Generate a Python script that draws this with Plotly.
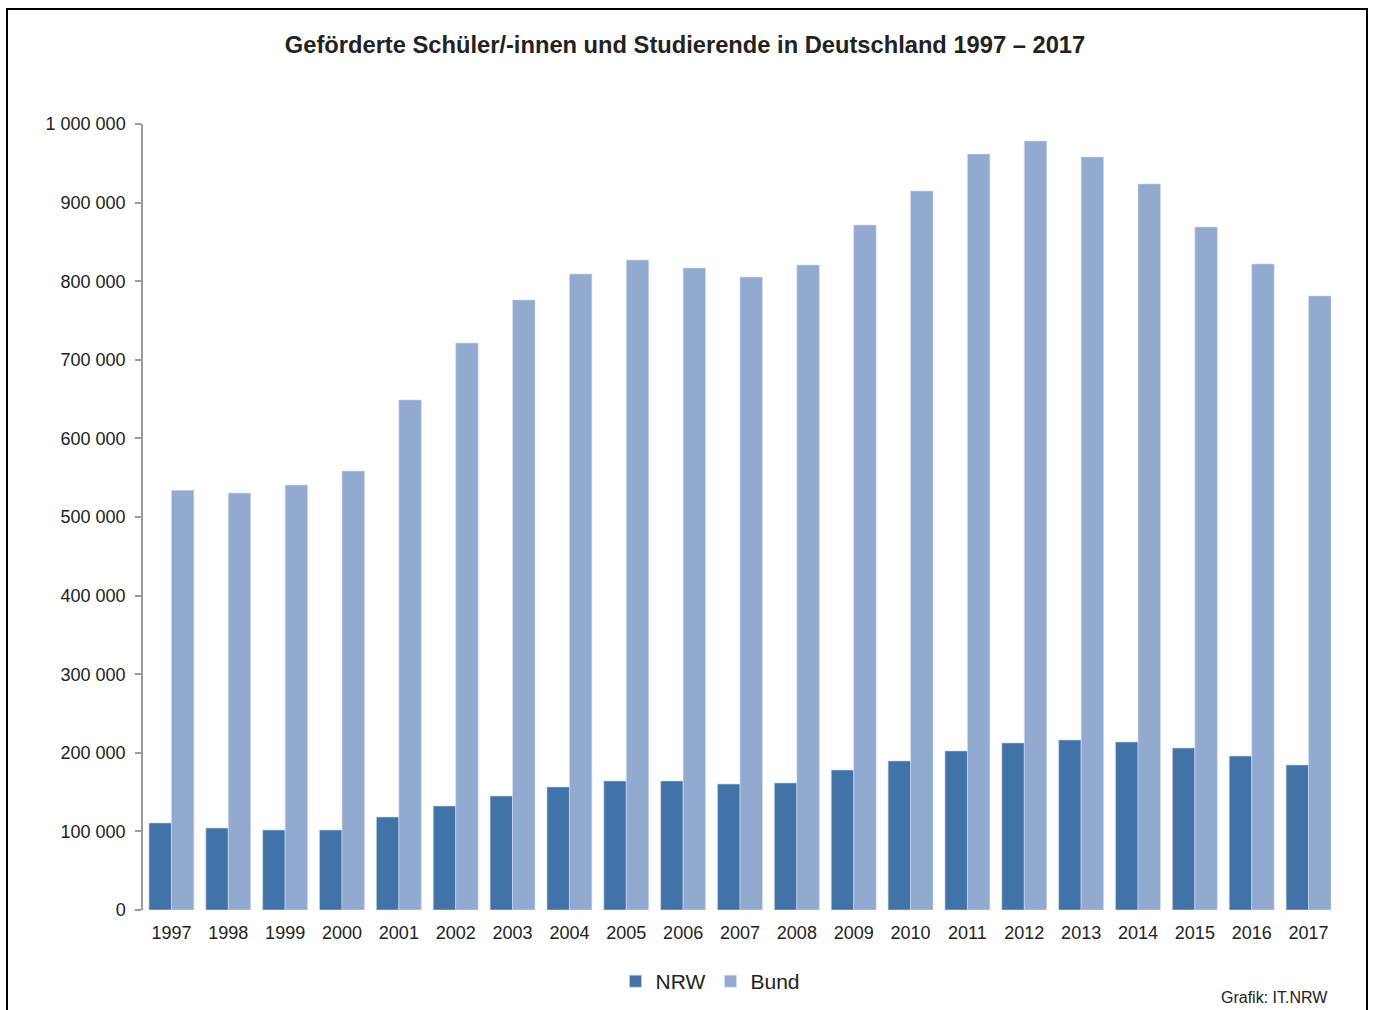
import plotly.graph_objects as go

years = [str(y) for y in range(1997, 2018)]
nrw = [110700, 104300, 101800, 101800, 118300, 132300, 145000, 156500, 164100, 164100,
       160300, 161600, 178100, 189600, 202300, 212500, 216300, 213700, 206100, 195900, 184500]
bund = [534000, 530500, 540700, 558500, 648900, 721400, 776100, 809200, 827000, 816800,
        805300, 820600, 871500, 914800, 961800, 978400, 958000, 923700, 869000, 821900, 781200]

W, H = 1373, 1010
L, R, T, B = 143, 36, 124, 100
pw = W - L - R
ph = H - T - B

def px_x(p):
    return (p - L) / pw

def px_y(p):
    return (H - B - p) / ph

fig = go.Figure()
fig.add_trace(go.Bar(x=years, y=nrw, name="NRW", marker=dict(color="#4173A8", line=dict(color="#C9D5E8", width=0.6))))
fig.add_trace(go.Bar(x=years, y=bund, name="Bund", marker=dict(color="#92AAD0", line=dict(color="#D3DDEE", width=0.6))))

fig.update_layout(
    width=W, height=H,
    margin=dict(l=L, r=R, t=T, b=B, autoexpand=False),
    paper_bgcolor="white", plot_bgcolor="white",
    font=dict(family="Liberation Sans, Arial, sans-serif", color="#222222"),
    barmode="group", bargap=0.21, bargroupgap=0,
    separators=", ",
    title=dict(text="<b>Geförderte Schüler/-innen und Studierende in Deutschland 1997 – 2017</b>",
               x=px_x(685), xref="paper", xanchor="center", y=1 - 45 / H, yanchor="middle",
               font=dict(size=23.7, color="#222222")),
    showlegend=True,
    legend=dict(orientation="h", x=px_x(710), xanchor="center", y=px_y(961), yanchor="top",
                font=dict(size=21, color="#222222"), itemwidth=30, tracegroupgap=0),
    shapes=[dict(type="rect", xref="paper", yref="paper",
                 x0=px_x(7), x1=px_x(1367), y0=px_y(1020), y1=px_y(9),
                 line=dict(color="black", width=2), fillcolor="rgba(0,0,0,0)", layer="above")],
    annotations=[dict(text="Grafik: IT.NRW", xref="paper", yref="paper",
                      x=px_x(1330), y=px_y(998), xanchor="right", yanchor="middle",
                      showarrow=False, font=dict(size=16, color="#222222"))],
)
fig.update_xaxes(showline=False, ticks="", tickfont=dict(size=18, color="#222222"), showgrid=False,
                 ticklabelstandoff=10, automargin=False)
fig.update_yaxes(range=[0, 1000000], dtick=100000, tickformat=",d", showgrid=False, zeroline=False,
                 showline=True, linecolor="#9A9A9F", linewidth=1.5, ticks="outside", ticklen=6,
                 tickcolor="#9A9A9F", tickwidth=1.5, tickfont=dict(size=18, color="#222222"),
                 ticklabelstandoff=6, automargin=False)

fig.write_html("out.html", config={"displayModeBar": False},
               post_script="document.body.style.margin='0';")
